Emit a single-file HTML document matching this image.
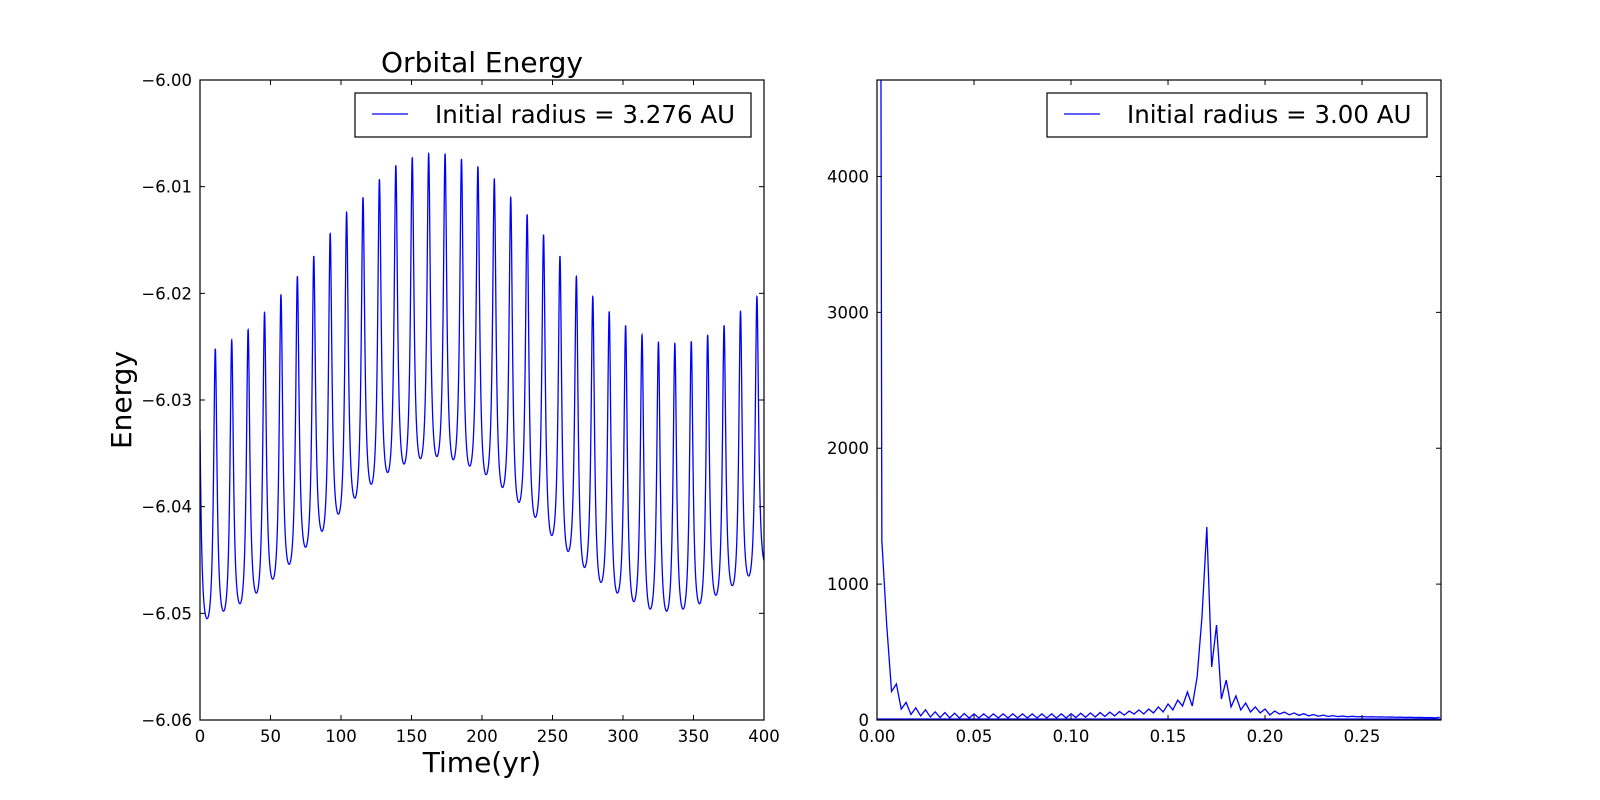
<!DOCTYPE html>
<html><head><meta charset="utf-8"><style>
body{margin:0;background:#fff;}
svg{display:block;font-family:"DejaVu Sans","Liberation Sans",sans-serif;}
</style></head><body>
<svg id="fig" width="1600" height="800" viewBox="0 0 1600 800" xmlns="http://www.w3.org/2000/svg">
<rect width="1600" height="800" fill="#fff"/>
<g id="left"></g>
<g id="right"></g>
</svg>
<script>
// ---- Left chart data ----
const peakTimes0 = [10.85];
const peakPeriod = [11.64];
const peakEnergies = [-6.0252,-6.0244,-6.0234,-6.0218,-6.0201,-6.0184,-6.0165,-6.0144,-6.0124,-6.0110,-6.0093,-6.0080,-6.0073,-6.0069,-6.0069,-6.0074,-6.0081,-6.0093,-6.0110,-6.0126,-6.0145,-6.0165,-6.0184,-6.0203,-6.0217,-6.0230,-6.0239,-6.0246,-6.0247,-6.0245,-6.0239,-6.0230,-6.0217,-6.0203];
const troughEnergies = [-6.0505,-6.0498,-6.0491,-6.0481,-6.0468,-6.0454,-6.0438,-6.0423,-6.0407,-6.0392,-6.0379,-6.0368,-6.0360,-6.0355,-6.0353,-6.0356,-6.0362,-6.0370,-6.0382,-6.0396,-6.0410,-6.0427,-6.0442,-6.0457,-6.0471,-6.0481,-6.0489,-6.0496,-6.0498,-6.0496,-6.0491,-6.0483,-6.0474,-6.0465,-6.0452];
const edgePeaks = [-6.027,-6.019];
const leftXTicks = [0,50,100,150,200,250,300,350,400];
const leftYTicks = [-6.06,-6.05,-6.04,-6.03,-6.02,-6.01,-6.00];
// ---- Right chart data ----
const freqStep = [0.0025];
const spectrum = [20000,1320,700,210,265,80,130,40,90,30,75,22,60,18,55,15,50,14,48,14,45,15,45,15,45,15,45,15,45,15,45,15,45,15,45,15,45,15,45,15,46,18,50,20,52,22,55,26,58,30,62,36,66,44,74,44,81,52,96,59,118,74,147,103,206,103,316,758,1420,390,699,155,294,96,177,74,125,59,96,52,81,37,66,44,58,38,52,34,46,30,40,28,36,26,32,25,29,24,27,24,25,23,24,22,23,21,22,20,21,19,20,18,19,17,18,15,20];
const rightXTicks = [0,0.05,0.10,0.15,0.20,0.25];
const rightYTicks = [0,1000,2000,3000,4000];

const NS="http://www.w3.org/2000/svg";
function mk(tag,attrs,parent){const e=document.createElementNS(NS,tag);for(const k in attrs)e.setAttribute(k,attrs[k]);parent.appendChild(e);return e;}
const minus=s=>s.replace('-','\u2212');

const L={x0:200,x1:764,y0:80,y1:720,xmin:0,xmax:400,ymin:-6.06,ymax:-6.00};
const lx=v=>L.x0+(v-L.xmin)/(L.xmax-L.xmin)*(L.x1-L.x0);
const ly=v=>L.y1-(v-L.ymin)/(L.ymax-L.ymin)*(L.y1-L.y0);
const R={x0:877,x1:1441,y0:80,y1:720,xmin:0,xmax:0.2907,ymin:0,ymax:4710};
const rx=v=>R.x0+(v-R.xmin)/(R.xmax-R.xmin)*(R.x1-R.x0);
const ry=v=>R.y1-(v-R.ymin)/(R.ymax-R.ymin)*(R.y1-R.y0);

const gl=document.getElementById('left'), gr=document.getElementById('right');

function shape(phi){const e=0.75;const r=(1-e)/(1-e*Math.cos(2*Math.PI*phi));const rmin=(1-e)/(1+e);return (r-rmin)/(1-rmin);}
function peakVal(j){if(j<0)return edgePeaks[0];if(j>=peakEnergies.length)return edgePeaks[1];return peakEnergies[j];}
function energy(t){
  const P=peakPeriod[0],T0=peakTimes0[0];
  const j=Math.floor((t-T0)/P);
  const phi=(t-(T0+j*P))/P;
  const tr=troughEnergies[Math.max(0,Math.min(troughEnergies.length-1,j+1))];
  if(phi<0.5)return tr+(peakVal(j)-tr)*shape(phi);
  return tr+(peakVal(j+1)-tr)*shape(1-phi);
}
const defs=mk('defs',{},document.getElementById('fig'));
const c1=mk('clipPath',{id:'cl'},defs);mk('rect',{x:L.x0,y:L.y0,width:L.x1-L.x0,height:L.y1-L.y0},c1);
const c2=mk('clipPath',{id:'cr'},defs);mk('rect',{x:R.x0,y:R.y0,width:R.x1-R.x0,height:R.y1-R.y0},c2);

let d='';
for(let t=0;t<=400.0001;t+=0.05){d+=(d?'L':'M')+lx(t).toFixed(2)+','+ly(energy(t)).toFixed(2);}
const lline=mk('path',{d:d,fill:'none',stroke:'#0000ff','stroke-width':1.3,'clip-path':'url(#cl)'},gl);



let d2='';
spectrum.forEach((v,k)=>{d2+=(d2?'L':'M')+rx(k*freqStep[0]).toFixed(2)+','+ry(v).toFixed(2);});
const rline=mk('path',{d:d2,fill:'none',stroke:'#0000ff','stroke-width':1.3,'clip-path':'url(#cr)'},gr);


const zline=mk('line',{x1:R.x0,x2:R.x1,y1:ry(0)-1,y2:ry(0)-1,stroke:'#0000ff','stroke-width':1.3},gr);



function axes(g,A,fx,fy,xt,yt,fmtx,fmty,pre){
  const f=mk('rect',{x:A.x0,y:A.y0,width:A.x1-A.x0,height:A.y1-A.y0,fill:'none',stroke:'#000','stroke-width':1.2},g);
  
  
  xt.forEach(v=>{const x=fx(v);
    mk('line',{x1:x,x2:x,y1:A.y1,y2:A.y1-5,stroke:'#000'},g);
    mk('line',{x1:x,x2:x,y1:A.y0,y2:A.y0+5,stroke:'#000'},g);
    const t=mk('text',{x:x,y:A.y1+22,'font-size':16.5,'text-anchor':'middle'},g);t.textContent=fmtx(v);
    
    });
  yt.forEach(v=>{const y=fy(v);
    mk('line',{x1:A.x0,x2:A.x0+5,y1:y,y2:y,stroke:'#000'},g);
    mk('line',{x1:A.x1,x2:A.x1-5,y1:y,y2:y,stroke:'#000'},g);
    const t=mk('text',{x:A.x0-8,y:y+6,'font-size':16.5,'text-anchor':'end'},g);t.textContent=fmty(v);
    
    });
}
axes(gl,L,lx,ly,leftXTicks,leftYTicks,v=>String(v),v=>minus(v.toFixed(2)),'left');
axes(gr,R,rx,ry,rightXTicks,rightYTicks,v=>v.toFixed(2),v=>String(v),'right');

function legend(g,x,y,w,h,label,pre){
  const b=mk('rect',{x:x,y:y,width:w,height:h,fill:'#fff',stroke:'#000','stroke-width':1.2},g);
  
  
  mk('line',{x1:x+17,x2:x+53,y1:y+21,y2:y+21,stroke:'#0000ff','stroke-width':1.3},g);
  const t=mk('text',{x:x+80,y:y+30,'font-size':24.5},g);t.textContent=label;
  
  
}
legend(gl,355,93,396,44,'Initial radius = 3.276 AU','left');
legend(gr,1047,93,380,44,'Initial radius = 3.00 AU','right');

const ti=mk('text',{x:482,y:72,'font-size':28,'text-anchor':'middle'},gl);ti.textContent='Orbital Energy';


const xl=mk('text',{x:482,y:772,'font-size':28,'text-anchor':'middle'},gl);xl.textContent='Time(yr)';


const yl=mk('text',{x:131,y:400,'font-size':28,'text-anchor':'middle',transform:'rotate(-90 131 400)'},gl);yl.textContent='Energy';


</script>
</body></html>
